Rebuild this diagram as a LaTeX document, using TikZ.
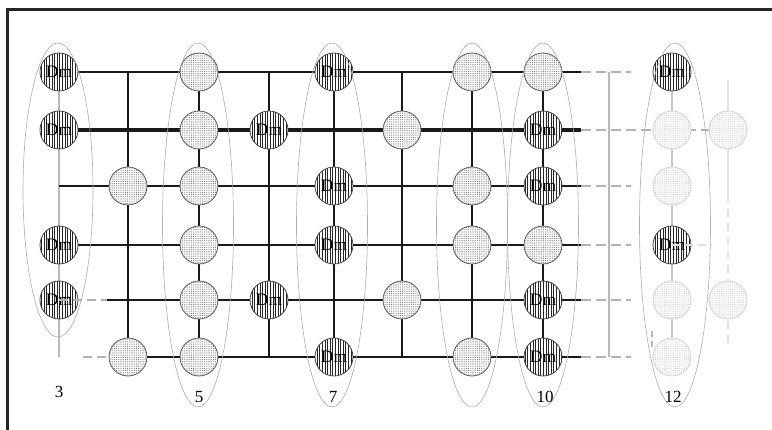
\documentclass[tikz,border=0pt]{standalone}
\usepackage{fontspec}
\setmainfont{Liberation Serif}
\usetikzlibrary{patterns.meta}
\begin{document}
\begin{tikzpicture}[x=1pt,y=-1pt,
  dmnode/.style={circle, minimum size=38pt, inner sep=0pt, draw=black!75, line width=0.8pt,
    preaction={fill=white}, pattern={Lines[angle=90,distance=2.6pt,line width=0.9pt]},
    pattern color=black!85, font=\fontsize{17.5}{17.5}\selectfont},
  dotnode/.style={circle, minimum size=38pt, inner sep=0pt, draw=black!65, line width=0.8pt,
    preaction={fill=gray!4}, pattern={Dots[distance=2.2pt,radius=0.55pt]}, pattern color=black!55},
  lightnode/.style={circle, minimum size=38pt, inner sep=0pt, draw=gray!35, line width=0.8pt,
    preaction={fill=gray!3}, pattern={Dots[distance=2.2pt,radius=0.55pt]}, pattern color=gray!40},
  hline/.style={draw=black!90, line width=2.2pt},
  vline/.style={draw=black!90, line width=2.7pt},
  gdash/.style={draw=gray!60, line width=2pt, dash pattern=on 10pt off 5pt},
  ldash/.style={draw=gray!25, line width=2pt, dash pattern=on 10pt off 5pt},
  grayline/.style={draw=gray!60, line width=1.5pt},
  ell/.style={draw=gray!65, line width=0.6pt},
  lab/.style={font=\fontsize{17}{17}\selectfont, inner sep=0pt}
]
\useasboundingbox (0,0) rectangle (772,430);
% frame
\draw[line width=3pt, draw=black!85] (7,430) coordinate (fb) -- (7,9.5) coordinate (fc) -- (772,9.5) coordinate (fr);

% grid coordinates
\foreach \n/\x in {a/59,b/128,c/199,d/269,e/334,f/402,g/472,h/543,k/672,m/728}
  \foreach \r/\y in {1/72,2/130,3/186,4/245,5/300,6/357}
    \coordinate (\n\r) at (\x,\y);
\foreach \r/\y in {1/72,2/130,3/186,4/245,5/300,6/357} {
  \coordinate (E\r) at (581,\y);
  \coordinate (D\r) at (631,\y);
}
\coordinate (G5) at (107,300);
\coordinate (G6) at (83,357);
\coordinate (Q1) at (609,72);
\coordinate (Q6) at (609,357);
\coordinate (M1) at (728,80);
\coordinate (M2) at (728,195);
\coordinate (M3) at (728,346);
\coordinate (T1) at (652,331);
\coordinate (T2) at (652,348);
\coordinate (R4) at (712,245);

% gray verticals
\draw[grayline, draw=gray!55] (a1) -- (a6);
\draw[grayline, draw=gray!55] (Q1) -- (Q6);
\draw[draw=gray!45, line width=2pt] (k1) -- (k6);
\draw[draw=gray!22, line width=2pt] (M1) -- (M2);
\draw[draw=gray!22, line width=2pt, dash pattern=on 8pt off 6pt] (M2) -- (M3);
\draw[draw=gray!55, line width=2pt, dash pattern=on 6pt off 4pt] (T1) -- (T2);

% dashed gray right
\foreach \r in {1,3,4,5,6} \draw[gdash] (E\r) -- (D\r);
\draw[gdash] (E2) -- (m2);

% horizontal black
\draw[hline] (a1) -- (E1);
\draw[hline, line width=3.2pt] (a2) -- (E2);
\draw[hline] (a3) -- (E3);
\draw[hline] (a4) -- (E4);
\draw[hline] (G5) -- (E5);
\draw[hline] (b6) -- (E6);
\draw[gdash, dash pattern=on 9pt off 5pt] (G6) -- (b6);

% vertical black
\foreach \n in {b,c,d,e,f,g,h} \draw[vline] (\n1) -- (\n6);

% nodes
\foreach \p in {a1,a2,a4,a5,d2,d5,e1,e3,e4,e6,h2,h3,h5,h6,k1,k4}
  \node[dmnode] (n-\p) at (\p) {Dm};
\foreach \p in {b3,b6,c1,c2,c3,c4,c5,c6,f2,f5,g1,g3,g4,g6,h1,h4}
  \node[dotnode] (n-\p) at (\p) {};
\foreach \p in {k2,k3,k5,k6,m2,m5}
  \node[lightnode] (n-\p) at (\p) {};

% overlays
\draw[gdash, dash pattern=on 9pt off 5pt] (a5) -- (G5);
\draw[ldash, dash pattern=on 8pt off 5pt] (k4) -- (R4);

% ellipses
\draw[ell] (58,190) ellipse [x radius=35, y radius=147];
\foreach \x in {198,332,472,543,675}
  \draw[ell] (\x,225) ellipse [x radius=35.5, y radius=182];

% labels
\node[lab] (l3) at (59,392) {3};
\node[lab] (l5) at (199,397) {5};
\node[lab] (l7) at (333,397) {7};
\node[lab] (l10) at (545,397) {10};
\node[lab] (l12) at (673,397) {12};
\end{tikzpicture}
\end{document}
